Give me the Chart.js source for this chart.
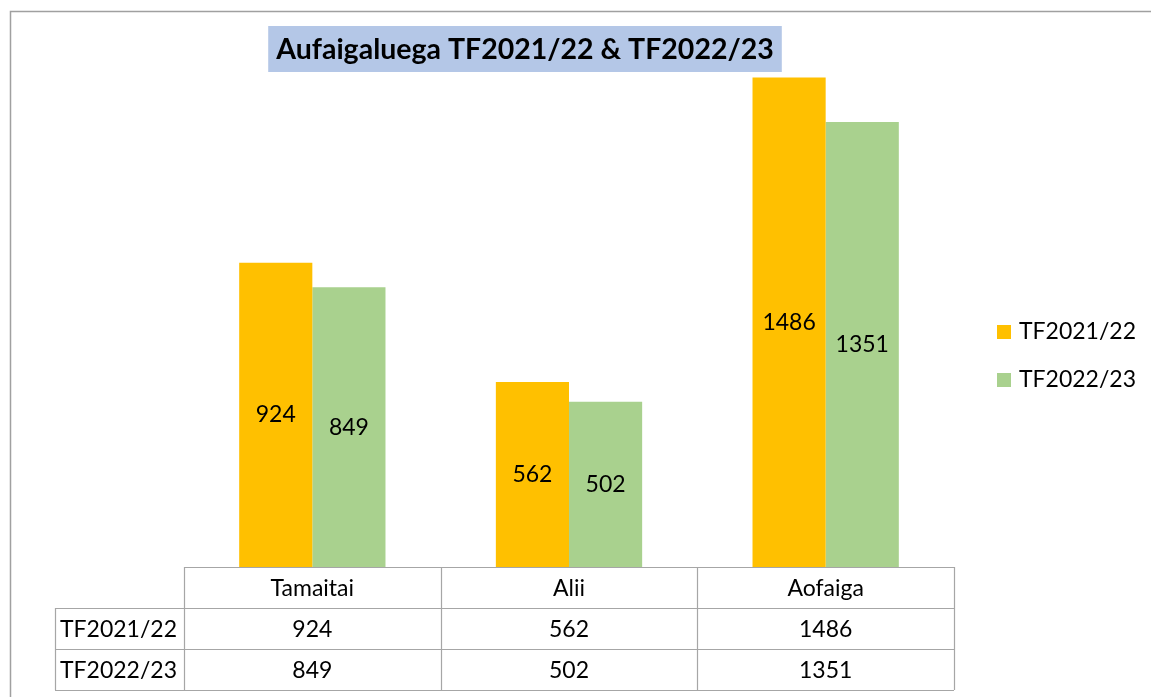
<!DOCTYPE html>
<html lang="en">
<head>
    <meta charset="UTF-8">
    <title>Aufaigaluega</title>
    <script src="https://cdn.jsdelivr.net/npm/chart.js"></script>
    <style>
        html, body { margin: 0; padding: 0; background: #fff; }
        #wrap { width: 1151px; height: 697px; position: relative; }
    </style>
</head>
<body>
<div id="wrap"><canvas id="myChart" width="1151" height="697"></canvas></div>

<script>
const categories = ['Tamaitai', 'Alii', 'Aofaiga'];
const seriesNames = ['TF2021/22', 'TF2022/23'];
const values2122 = [924, 562, 1486];
const values2223 = [849, 502, 1351];
const colors = ['#FFC000', '#A9D18E'];
const chartTitle = 'Aufaigaluega TF2021/22 & TF2022/23';

const FONT = 'Lato, "Open Sans", sans-serif';
const lineColor = '#A6A6A6';

// titulo, rotulos, legenda e tabela de dados
const extras = {
    id: 'extras',
    afterDraw(chart) {
        const ctx = chart.ctx;
        const x = chart.scales.x;
        const area = chart.chartArea;
        ctx.save();

        // borda externa
        ctx.strokeStyle = '#A0A0A0';
        ctx.lineWidth = 1.5;
        ctx.beginPath();
        ctx.moveTo(10.5, 720);
        ctx.lineTo(10.5, 11.5);
        ctx.lineTo(1160, 11.5);
        ctx.stroke();

        // titulo
        ctx.font = 'bold 28.5px ' + FONT;
        const tw = ctx.measureText(chartTitle).width;
        const cx = 525;
        ctx.fillStyle = '#B4C7E7';
        ctx.fillRect(cx - tw / 2 - 8, 26, tw + 16, 46);
        ctx.fillStyle = '#000';
        ctx.textAlign = 'center';
        ctx.textBaseline = 'middle';
        ctx.fillText(chartTitle, cx, 50);

        // rotulos nas barras
        ctx.font = '23px ' + FONT;
        chart.data.datasets.forEach((ds, i) => {
            chart.getDatasetMeta(i).data.forEach((bar, j) => {
                const mid = (bar.y + bar.base) / 2;
                ctx.fillText(ds.data[j], bar.x, mid);
            });
        });

        // legenda
        seriesNames.forEach((name, i) => {
            const ly = 332 + i * 48;
            ctx.fillStyle = colors[i];
            ctx.fillRect(997, ly - 7, 14, 14);
            ctx.fillStyle = '#000';
            ctx.textAlign = 'left';
            ctx.fillText(name, 1019, ly);
        });

        // tabela
        const top = area.bottom;
        const rowH = 41;
        const left = area.left;
        const right = area.right;
        const hdrLeft = 55;
        ctx.strokeStyle = lineColor;
        ctx.lineWidth = 1.2;
        ctx.beginPath();
        ctx.moveTo(left, top + 0.5); ctx.lineTo(right, top + 0.5);
        for (let r = 1; r <= 3; r++) {
            ctx.moveTo(hdrLeft, top + r * rowH + 0.5);
            ctx.lineTo(right, top + r * rowH + 0.5);
        }
        ctx.moveTo(hdrLeft + 0.5, top + rowH); ctx.lineTo(hdrLeft + 0.5, top + 3 * rowH);
        const step = (right - left) / categories.length;
        for (let c = 0; c <= categories.length; c++) {
            const vx = Math.round(left + c * step) + 0.5;
            ctx.moveTo(vx, top); ctx.lineTo(vx, top + 3 * rowH);
        }
        ctx.stroke();

        ctx.fillStyle = '#000';
        ctx.font = '23px ' + FONT;
        ctx.textAlign = 'center';
        categories.forEach((c, j) => {
            const px = x.getPixelForValue(j);
            ctx.fillText(c, px, top + rowH / 2 + 1);
            ctx.fillText(values2122[j], px, top + rowH * 1.5 + 1);
            ctx.fillText(values2223[j], px, top + rowH * 2.5 + 1);
        });
        ctx.textAlign = 'left';
        seriesNames.forEach((name, i) => {
            ctx.fillText(name, hdrLeft + 5, top + rowH * (1.5 + i) + 1);
        });

        ctx.restore();
    }
};

const ctx = document.getElementById('myChart').getContext('2d');
new Chart(ctx, {
    type: 'bar',
    data: {
        labels: categories,
        datasets: [
            { label: seriesNames[0], data: values2122, backgroundColor: colors[0] },
            { label: seriesNames[1], data: values2223, backgroundColor: colors[1] }
        ]
    },
    options: {
        responsive: false,
        animation: false,
        layout: { padding: { left: 184, right: 197, top: 40, bottom: 130 } },
        datasets: { bar: { barPercentage: 1, categoryPercentage: 0.57 } },
        plugins: {
            legend: { display: false },
            title: { display: false },
            tooltip: { enabled: false }
        },
        scales: {
            x: { display: false },
            y: { display: false, min: 0, max: 1600 }
        }
    },
    plugins: [extras]
});
</script>
</body>
</html>
